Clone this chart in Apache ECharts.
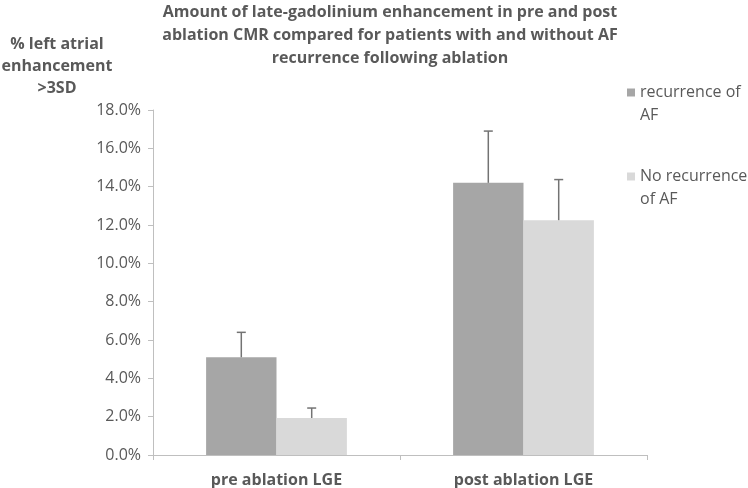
<!DOCTYPE html>
<html>
<head>
<meta charset="utf-8">
<script src="https://cdn.jsdelivr.net/npm/echarts@6/dist/echarts.min.js"></script>
<style>html,body{margin:0;padding:0;background:#fff}#c{width:748px;height:488px}</style>
</head>
<body>
<div id="c"></div>
<script>
const categories = ['pre ablation LGE', 'post ablation LGE'];
const seriesNames = ['recurrence of\nAF', 'No recurrence\nof AF'];
const recurrence = [5.1, 14.2];
const recurrenceErrTop = [6.4, 16.9];
const noRecurrence = [1.93, 12.25];
const noRecurrenceErrTop = [2.45, 14.37];
const yTicks = [0, 2, 4, 6, 8, 10, 12, 14, 16, 18];

const colors = ['#a6a6a6', '#d9d9d9'];
const FONT = 'Open Sans';
const chart = echarts.init(document.getElementById('c'));

function errSeries(vals, tops, idx) {
  return {
    type: 'custom',
    silent: true,
    z: 5,
    data: vals.map((v, i) => [i, v, tops[i]]),
    encode: { x: 0, y: [1, 2] },
    renderItem: function (params, api) {
      const i = api.value(0);
      const base = api.coord([i, api.value(1)]);
      const top = api.coord([i, api.value(2)]);
      const band = api.size([1, 0])[0];
      const barW = band * 0.57 / 2;
      const x = base[0] + (idx === 0 ? -barW / 2 : barW / 2);
      const cap = 4.5;
      return {
        type: 'group',
        children: [
          { type: 'line', shape: { x1: x, y1: base[1], x2: x, y2: top[1] }, style: { stroke: '#737373', lineWidth: 1.5 } },
          { type: 'line', shape: { x1: x - cap, y1: top[1], x2: x + cap, y2: top[1] }, style: { stroke: '#737373', lineWidth: 1.5 } }
        ]
      };
    }
  };
}

chart.setOption({
  animation: false,
  title: [{
    text: 'Amount of late-gadolinium enhancement in pre and post\nablation CMR compared for patients with and without AF\nrecurrence following ablation',
    left: 385, top: -4, textAlign: 'center',
    textStyle: { fontFamily: FONT, fontSize: 16, fontWeight: 'bold', color: '#595959', lineHeight: 23 }
  }, {
    text: '% left atrial\nenhancement\n>3SD',
    left: 52, top: 28, textAlign: 'center',
    textStyle: { fontFamily: FONT, fontSize: 16, fontWeight: 'bold', color: '#595959', lineHeight: 22 }
  }],
  legend: {
    orient: 'vertical',
    left: 622, top: 76,
    itemWidth: 8, itemHeight: 46, itemGap: 38,
    icon: 'path://M0,0M0,7.5h8v8h-8zM8,46',
    data: seriesNames,
    textStyle: { fontFamily: FONT, fontSize: 16, color: '#595959', lineHeight: 23 }
  },
  grid: { left: 153, right: 101, top: 110, bottom: 32, containLabel: false },
  xAxis: {
    type: 'category',
    data: categories,
    axisLine: { lineStyle: { color: '#bfbfbf', width: 1 } },
    axisTick: { show: true, length: 5, lineStyle: { color: '#bfbfbf' } },
    axisLabel: { fontFamily: FONT, fontSize: 16, fontWeight: 'bold', color: '#595959', margin: 17 }
  },
  yAxis: {
    type: 'value',
    min: yTicks[0], max: yTicks[yTicks.length - 1], interval: 2,
    axisLine: { show: true, lineStyle: { color: '#bfbfbf', width: 1 } },
    axisTick: { show: true, length: 5, lineStyle: { color: '#bfbfbf' } },
    splitLine: { show: false },
    axisLabel: { fontFamily: FONT, fontSize: 16, color: '#595959', margin: 12, formatter: v => v.toFixed(1) + '%' }
  },
  series: [
    { name: seriesNames[0], type: 'bar', data: recurrence, barGap: '0%', barCategoryGap: '43%', itemStyle: { color: colors[0] } },
    { name: seriesNames[1], type: 'bar', data: noRecurrence, barGap: '0%', barCategoryGap: '43%', itemStyle: { color: colors[1] } },
    errSeries(recurrence, recurrenceErrTop, 0),
    errSeries(noRecurrence, noRecurrenceErrTop, 1)
  ]
});
</script>
</body>
</html>
